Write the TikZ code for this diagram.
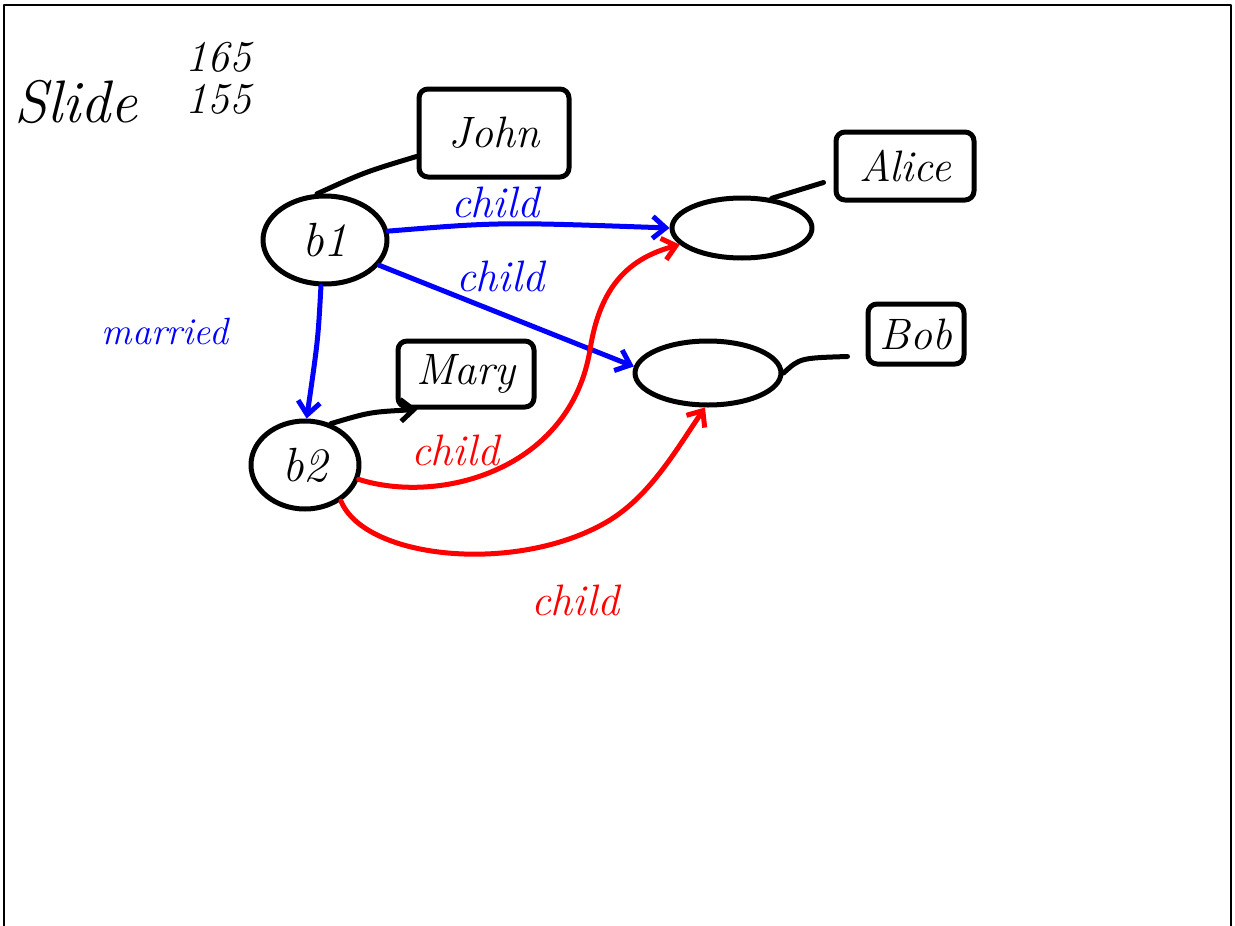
\documentclass[tikz,border=0pt]{standalone}
\usetikzlibrary{shapes.geometric,arrows.meta}
\begin{document}
\begin{tikzpicture}[x=1pt,y=-1pt,line width=5pt,line cap=round,line join=round,
  hand/.style={font=\itshape\fontsize{#1}{#1}\selectfont},
  hand/.default=44,
  blank/.style={draw,ellipse,inner sep=0pt},
  namebox/.style={draw,rectangle,rounded corners=9pt,inner sep=0pt,hand=44},
  arr/.style={-{Straight Barb[length=13pt,width=22pt,line width=5pt]}},
  lbl/.style={inner sep=0pt,hand=44}]
\useasboundingbox (0,0) rectangle (1235,926);
% slide frame
\draw[line width=1.8pt,line cap=butt] (4,926) |- (1231,5) -- (1231,926);

% heading
\node[hand=60,inner sep=0pt] (title) at (76,102) {Slide};
\node[hand=44,inner sep=0pt,align=left] (num) at (218,78) {165\\[-2pt]155};

% blank nodes
\node[blank,minimum width=124pt,minimum height=88pt,hand=48] (b1) at (325,240) {b1};
\node[blank,minimum width=108pt,minimum height=88pt,hand=48] (b2) at (305,465) {b2};
\node[blank,minimum width=140pt,minimum height=60pt] (alice) at (742,228) {};
\node[blank,minimum width=146pt,minimum height=64pt] (bob) at (708,373) {};

% name boxes
\node[namebox,minimum width=150pt,minimum height=88pt] (john) at (494,133) {John};
\node[namebox,minimum width=138pt,minimum height=68pt] (alicebox) at (905,166) {Alice};
\node[namebox,minimum width=96pt,minimum height=60pt] (bobbox) at (916,334) {Bob};
\node[namebox,minimum width=136pt,minimum height=66pt] (mary) at (466,374) {Mary};

% names attached to blank nodes
\draw (b1.100) .. controls (365,172) .. ([yshift=23pt]john.south west);
\draw[arr] (b2.58) .. controls (370,412) .. ([xshift=22pt]mary.south west);
\draw (alice.45) -- ([xshift=-10pt,yshift=20pt]alicebox.south west);
\draw (bob.east) .. controls (800,358) .. ([xshift=-18pt,yshift=10pt]bobbox.south west);

% blue relations
\draw[blue,arr] (b1.8) .. controls (500,222) .. (alice.west);
\node[lbl,blue] (c1) at (495,202) {child};
\draw[blue,arr] (b1.-25) -- (bob.175);
\node[lbl,blue] (c2) at (500,276) {child};
\draw[blue,arr] (b1.-95) .. controls (318,340) .. (b2.88);
\node[lbl,blue,hand=38] (m) at (165,332) {married};

% red relations
\draw[red,arr] (b2.-15) .. controls (440,505) and (570,470) .. (590,350)
  .. controls (600,285) and (630,258) .. (alice.195);
\node[lbl,red] (c3) at (455,450) {child};
\draw[red,arr] (b2.-45) .. controls (365,560) and (520,575) .. (610,520)
  .. controls (650,495) and (675,452) .. (bob.265);
\node[lbl,red] (c4) at (575,600) {child};
\end{tikzpicture}
\end{document}
